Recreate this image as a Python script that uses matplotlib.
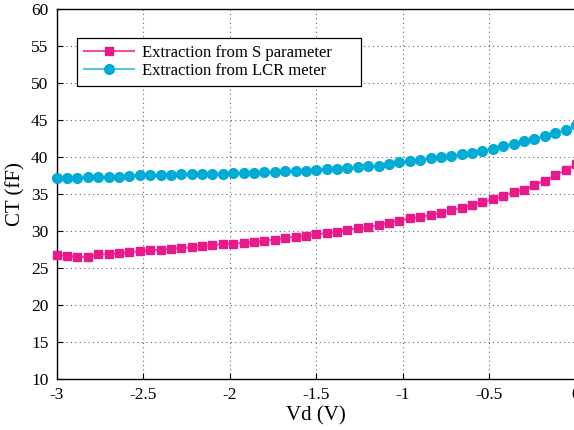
import numpy as np
import matplotlib
matplotlib.use("Agg")
import matplotlib.pyplot as plt

plt.rcParams['font.family'] = ['Liberation Serif', 'DejaVu Serif']
plt.rcParams['mathtext.fontset'] = 'stix'

# Drain bias sweep (V)
vd = [-3.00, -2.94, -2.88, -2.82, -2.76, -2.70, -2.64, -2.58, -2.52, -2.46,
      -2.40, -2.34, -2.28, -2.22, -2.16, -2.10, -2.04, -1.98, -1.92, -1.86,
      -1.80, -1.74, -1.68, -1.62, -1.56, -1.50, -1.44, -1.38, -1.32, -1.26,
      -1.20, -1.14, -1.08, -1.02, -0.96, -0.90, -0.84, -0.78, -0.72, -0.66,
      -0.60, -0.54, -0.48, -0.42, -0.36, -0.30, -0.24, -0.18, -0.12, -0.06,
      0.00]

# Total capacitance extracted from S parameters (fF)
ct_sparam = [26.8, 26.6, 26.5, 26.5, 26.85, 26.85, 27.0, 27.1, 27.3, 27.4,
             27.45, 27.6, 27.7, 27.8, 28.0, 28.1, 28.25, 28.3, 28.4, 28.5,
             28.7, 28.8, 29.1, 29.2, 29.35, 29.55, 29.7, 29.85, 30.2, 30.35,
             30.5, 30.8, 31.1, 31.4, 31.7, 31.9, 32.2, 32.4, 32.8, 33.15,
             33.5, 33.9, 34.3, 34.7, 35.3, 35.6, 36.2, 36.8, 37.5, 38.2,
             39.05]

# Total capacitance measured with the LCR meter (fF)
ct_lcr = [37.2, 37.15, 37.15, 37.3, 37.3, 37.3, 37.35, 37.4, 37.5, 37.5,
          37.55, 37.55, 37.65, 37.65, 37.7, 37.75, 37.75, 37.8, 37.9, 37.9,
          37.95, 38.0, 38.05, 38.1, 38.15, 38.3, 38.4, 38.4, 38.55, 38.6,
          38.75, 38.8, 39.1, 39.3, 39.4, 39.6, 39.8, 40.0, 40.1, 40.4,
          40.6, 40.85, 41.1, 41.5, 41.8, 42.1, 42.4, 42.9, 43.3, 43.65,
          44.3]

x_ticks = [-3, -2.5, -2, -1.5, -1, -0.5, 0]
x_labels = ['-3', '-2.5', '-2', '-1.5', '-1', '-0.5', '0']
y_ticks = [10, 15, 20, 25, 30, 35, 40, 45, 50, 55, 60]

pink = '#e8198b'
pink_line = '#f04ea6'
cyan = '#00abd4'
cyan_line = '#55c8e0'

fig = plt.figure(figsize=(5.74, 4.30), dpi=100)
ax = fig.add_axes([0.0988, 0.1186, 0.9045, 0.8605])

ax.plot(vd, ct_sparam, color=pink_line, marker='s', markersize=6.2, lw=1.5,
        markerfacecolor=pink, markeredgecolor=pink,
        label='Extraction from S parameter', clip_on=False, zorder=3)
ax.plot(vd, ct_lcr, color=cyan_line, marker='o', markersize=7, lw=1.5,
        markerfacecolor=cyan, markeredgecolor=cyan,
        label='Extraction from LCR meter', clip_on=False, zorder=3)

ax.set_xlim(-3, 0)
ax.set_ylim(10, 60)
ax.set_xticks(x_ticks)
ax.set_xticklabels(x_labels)
ax.set_yticks(y_ticks)
ax.tick_params(direction='in', length=4, width=0.8, labelsize=12.5, pad=6)
ax.grid(True, linestyle=(0, (1, 3)), color='#666666', linewidth=0.8)
for s in ax.spines.values():
    s.set_linewidth(1.0)

ax.set_xlabel('Vd (V)', fontsize=15, labelpad=2)
ax.set_ylabel('CT (fF)', fontsize=15, labelpad=4)

leg = ax.legend(loc='upper left', bbox_to_anchor=(0.039, 0.922, 0.547, 0),
                mode='expand', fontsize=12, frameon=True, fancybox=False,
                framealpha=1, edgecolor='black', handlelength=3.0,
                borderpad=0.4, labelspacing=0.15, handletextpad=0.5,
                borderaxespad=0)
leg.get_frame().set_linewidth(0.9)

fig.savefig('out.png', dpi=100)
